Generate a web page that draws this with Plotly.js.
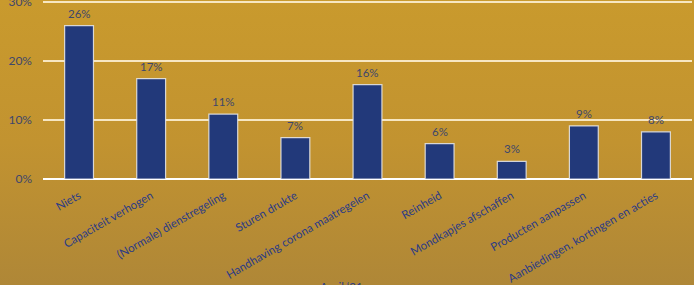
<!DOCTYPE html>
<html>
<head>
<meta charset="utf-8">
<script src="https://cdn.plot.ly/plotly-3.0.1.min.js"></script>
<style>
html,body{margin:0;padding:0;width:694px;height:285px;overflow:hidden;}
body{background:linear-gradient(to bottom,#C99A2D 0%,#C29330 50%,#AF8737 100%);}
#chart{width:694px;height:285px;}
</style>
</head>
<body>
<div id="chart"></div>
<script>
const categories = ["Niets","Capaciteit verhogen","(Normale) dienstregeling","Sturen drukte","Handhaving corona maatregelen","Reinheid","Mondkapjes afschaffen","Producten aanpassen","Aanbiedingen, kortingen en acties"];
const values = [26,17,11,7,16,6,3,9,8];
const yTicks = [0,10,20,30];
const yTickLabels = ["0%","10%","20%","30%"];
const xTitle = "April \u201821";

const trace = {
  type: 'bar',
  x: categories,
  y: values,
  width: 0.4,
  marker: {color: '#22397A', line: {color: 'rgba(235,235,235,0.85)', width: 1.2}},
  hoverinfo: 'none'
};

const labelAnnotations = categories.map((c, i) => ({
  x: c, y: values[i], xref: 'x', yref: 'y',
  text: values[i] + '%', showarrow: false,
  xanchor: 'center', yanchor: 'bottom', yshift: 4,
  font: {family: 'Lato, sans-serif', size: 11.5, color: '#3E476B'}
}));

const layout = {
  width: 694, height: 285,
  margin: {l: 43, r: 2, t: 0, b: 106},
  paper_bgcolor: 'rgba(0,0,0,0)',
  plot_bgcolor: 'rgba(0,0,0,0)',
  showlegend: false,
  xaxis: {
    tickangle: -30,
    tickfont: {family: 'Lato, sans-serif', size: 11.5, color: '#2B3B86'},
    showgrid: false, showline: false, ticks: '', zeroline: false,
    ticklabelstandoff: 7,
    automargin: false
  },
  yaxis: {
    range: [0, 30.34],
    tickvals: yTicks, ticktext: yTickLabels,
    tickfont: {family: 'Lato, sans-serif', size: 12, color: '#3E476B'},
    showgrid: true, gridcolor: 'rgba(255,245,220,0.85)', gridwidth: 1.5,
    zeroline: true, zerolinecolor: '#FFFFFF', zerolinewidth: 1.5,
    showline: false, ticks: '', ticklabelstandoff: 10, automargin: false,
    ticklabeloverflow: 'allow'
  },
  annotations: labelAnnotations.concat([{
    text: xTitle, xref: 'paper', yref: 'paper', x: 0.46, y: -0.555,
    xanchor: 'center', yanchor: 'top', showarrow: false,
    font: {family: 'Lato, sans-serif', size: 11.5, color: '#2B3B86'}
  }])
};

Plotly.newPlot('chart', [trace], layout, {displayModeBar: false, staticPlot: true});
</script>
</body>
</html>
